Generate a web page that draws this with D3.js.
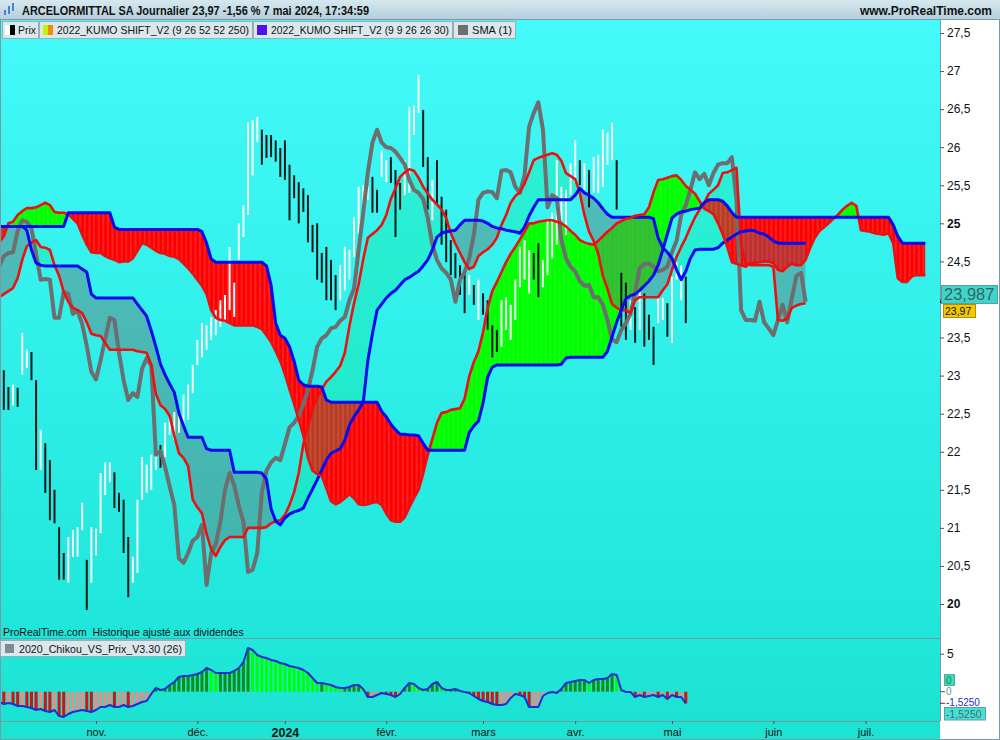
<!DOCTYPE html>
<html><head><meta charset="utf-8">
<script src="https://cdn.jsdelivr.net/npm/d3@7"></script>
<style>
body{margin:0;background:#fff;}
svg{display:block;font-family:"Liberation Sans",Arial,sans-serif;}
</style></head><body>
<svg id="c" width="1000" height="740"></svg>
<script>
// ---------------- DATA ----------------
const tickIdx = [22,44,63,85,106,126,147,169,189];
const tickLabels = ['nov.','déc.','2024','févr.','mars','avr.','mai','juin','juil.'];
// "24" is hidden behind the last-value box in the original, so it is not labelled
const yTicks = [20,20.5,21,21.5,22,22.5,23,23.5,24.5,25,25.5,26,26.5,27,27.5];
const lowTicks = [5];
// closes for bar index -26..150 (drawn as the SMA(1) line shifted +26)
const closes = [24.39,24.44,24.57,24.61,24.62,24.90,25.04,25.02,24.93,24.60,
24.26,24.27,24.26,23.76,23.76,24.10,24.07,23.81,23.85,23.68,
23.39,23.05,22.95,23.20,23.48,23.76,23.73,23.30,22.94,22.68,
22.77,22.72,23.09,23.23,23.13,21.96,22.01,21.80,21.54,21.30,
20.60,20.54,20.67,20.83,20.88,21.04,20.25,20.67,20.79,21.08,
21.50,21.72,21.56,21.29,21.08,20.42,20.45,20.67,21.47,21.75,
21.86,21.92,21.89,22.10,22.32,22.38,22.47,22.63,22.81,23.07,
23.38,23.49,23.53,23.62,23.64,23.72,23.77,23.99,24.14,24.65,
25.14,25.67,26.06,26.23,26.06,26.00,25.99,25.94,25.86,25.77,
25.57,25.44,25.40,25.32,25.07,24.72,24.52,24.41,24.35,24.26,
23.97,24.26,24.36,24.54,24.85,25.31,25.40,25.42,25.41,25.33,
25.69,25.70,25.67,25.48,25.40,25.63,26.27,26.45,26.59,26.23,
25.21,25.37,25.33,24.78,24.54,24.43,24.37,24.24,24.18,24.19,
24.03,24.03,23.93,23.73,23.47,23.44,23.60,23.69,23.81,24.10,
24.41,24.47,24.47,24.43,24.37,24.39,24.43,24.62,24.77,25.11,
25.24,25.44,25.67,25.58,25.65,25.50,25.66,25.77,25.79,25.79,
25.87,25.31,23.86,23.73,23.73,23.72,23.97,23.70,23.62,23.53,
23.73,23.93,23.70,24.01,24.31,24.35,23.97];
const highs = [23.86,23.47,23.07,22.85,22.88,22.84,23.56,23.34,23.31,22.94,
22.29,22.11,21.89,21.50,21.01,20.67,20.88,20.97,21.01,21.33,
20.58,21.01,20.99,21.72,21.86,21.86,21.73,21.46,21.37,20.88,
20.62,21.37,21.93,21.83,21.96,22.02,22.09,22.38,22.46,22.52,
22.57,22.75,22.88,23.14,23.47,23.69,23.66,23.77,23.86,23.99,
24.06,24.69,24.22,25.00,25.24,26.32,26.36,26.40,26.23,26.16,
26.16,26.09,25.99,26.09,25.77,25.63,25.54,25.46,25.37,24.98,
25.00,24.61,24.69,24.52,24.32,24.45,24.69,24.65,25.08,25.48,
25.50,25.48,25.61,25.44,25.96,25.83,25.87,25.70,25.53,25.83,
26.53,26.55,26.95,26.49,25.87,25.57,25.83,25.35,25.18,24.78,
24.61,24.45,24.35,24.32,24.19,24.26,24.08,23.99,23.66,23.60,
23.99,24.03,23.93,24.26,24.69,24.78,24.65,24.61,24.74,24.52,
25.04,25.14,25.83,25.48,25.44,25.79,26.09,25.83,25.79,25.70,
25.87,25.90,26.23,26.19,26.32,25.83,24.35,24.22,23.99,23.90,
24.12,24.08,23.80,23.64,24.03,24.02,23.95,24.30,24.49,24.45,
24.30];
const lows = [23.47,23.05,22.55,22.55,22.61,22.59,23.01,23.10,22.94,21.76,
21.76,21.46,21.10,21.06,20.32,20.32,20.28,20.62,20.62,20.97,
19.92,20.28,20.64,20.93,21.43,21.60,21.26,21.21,20.67,20.09,
20.28,20.41,21.37,21.46,21.50,21.76,21.79,21.93,22.22,22.15,
22.25,22.35,22.42,22.77,23.14,23.24,23.34,23.47,23.53,23.64,
23.70,23.86,23.77,24.52,24.82,25.11,25.63,26.07,25.77,25.86,
25.87,25.81,25.61,25.57,25.04,25.33,25.00,25.15,24.75,24.62,
24.26,24.22,23.99,23.99,23.86,23.99,24.12,24.26,24.56,24.87,
25.18,25.31,25.14,25.14,25.61,25.54,25.53,24.82,25.18,25.37,
25.40,26.16,26.45,25.74,25.18,25.04,25.24,24.72,24.49,24.32,
24.28,24.06,23.82,24.06,23.93,23.73,23.80,23.60,23.24,23.31,
23.38,23.60,23.47,23.73,24.16,24.26,24.08,24.26,24.03,24.16,
24.32,24.54,24.72,25.04,24.85,25.37,25.53,25.50,25.44,25.21,
25.40,25.40,25.48,25.77,25.83,25.18,23.64,23.47,23.60,23.43,
23.60,23.38,23.47,23.14,23.69,23.73,23.51,23.43,24.26,23.99,
23.69];
// Kumo 1 (9 26 52 52 250): span A (red) and span B (blue), index 0..202
const ssa1 = [24.72,24.75,24.83,25.00,25.02,25.11,25.16,25.20,25.20,25.21,
25.24,25.27,25.24,25.15,25.14,25.14,25.12,25.06,25.00,24.85,
24.72,24.62,24.61,24.61,24.57,24.54,24.52,24.49,24.50,24.50,
24.54,24.64,24.74,24.72,24.68,24.64,24.61,24.60,24.57,24.56,
24.53,24.47,24.41,24.34,24.26,24.18,24.07,23.86,23.76,23.73,
23.72,23.69,23.66,23.66,23.66,23.66,23.66,23.64,23.61,23.53,
23.44,23.32,23.19,23.02,22.82,22.63,22.42,22.21,21.92,21.75,
21.71,21.68,21.52,21.35,21.31,21.34,21.39,21.44,21.39,21.31,
21.30,21.31,21.33,21.34,21.30,21.19,21.10,21.08,21.08,21.14,
21.27,21.39,21.50,21.71,21.96,22.17,22.38,22.51,22.52,22.55,
22.56,22.57,22.70,22.99,23.18,23.32,23.57,23.89,24.11,24.23,
24.36,24.49,24.60,24.69,24.79,24.89,25.00,25.00,25.02,25.03,
25.04,25.04,25.02,25.00,24.96,24.90,24.85,24.78,24.75,24.73,
24.72,24.77,24.83,24.89,24.94,25.00,25.03,25.06,25.07,25.10,
25.11,25.12,25.21,25.41,25.57,25.58,25.60,25.62,25.63,25.57,
25.49,25.44,25.39,25.29,25.19,25.16,25.12,25.00,24.86,24.69,
24.49,24.47,24.45,24.43,24.48,24.48,24.49,24.50,24.50,24.48,
24.39,24.37,24.43,24.47,24.45,24.45,24.52,24.68,24.81,24.90,
24.95,25.00,25.06,25.11,25.18,25.23,25.27,25.23,24.91,24.90,
24.89,24.87,24.86,24.85,24.87,24.74,24.28,24.23,24.23,24.30,
24.32,24.32,24.32];
const ssb1 = [24.96,24.96,24.96,24.96,24.96,24.96,24.96,24.96,24.96,24.96,
24.96,24.96,24.96,24.96,24.96,24.96,25.14,25.14,25.14,25.14,
25.14,25.14,25.14,25.14,25.14,25.14,24.95,24.92,24.92,24.92,
24.92,24.92,24.92,24.92,24.92,24.92,24.92,24.92,24.92,24.92,
24.92,24.92,24.92,24.92,24.92,24.89,24.74,24.53,24.49,24.49,
24.49,24.49,24.49,24.49,24.49,24.49,24.49,24.49,24.49,24.44,
24.19,23.69,23.53,23.49,23.38,23.19,22.94,22.88,22.86,22.86,
22.86,22.85,22.68,22.65,22.65,22.65,22.65,22.65,22.65,22.65,
22.65,22.65,22.65,22.65,22.53,22.46,22.36,22.29,22.23,22.23,
22.22,22.22,22.21,22.11,22.02,22.02,22.02,22.02,22.02,22.02,
22.02,22.02,22.02,22.25,22.34,22.40,22.64,22.98,23.11,23.14,
23.14,23.14,23.14,23.14,23.14,23.14,23.14,23.14,23.14,23.14,
23.14,23.14,23.14,23.15,23.23,23.24,23.24,23.24,23.24,23.24,
23.24,23.24,23.24,23.32,23.51,23.70,23.86,24.01,24.05,24.07,
24.12,24.18,24.24,24.32,24.45,24.65,24.86,25.07,25.12,25.15,
25.16,25.18,25.19,25.20,25.27,25.31,25.31,25.31,25.29,25.23,
25.14,25.08,25.08,25.08,25.08,25.08,25.08,25.08,25.08,25.08,
25.08,25.08,25.08,25.08,25.08,25.08,25.08,25.08,25.08,25.08,
25.08,25.08,25.08,25.08,25.08,25.08,25.08,25.08,25.08,25.08,
25.08,25.08,25.08,25.08,25.08,24.98,24.83,24.74,24.74,24.74,
24.74,24.74,24.74];
// Kumo 2 (9 9 26 26 30): span A (red) and span B (blue), index 0..176
const ssa2 = [24.01,24.03,24.07,24.11,24.15,24.28,24.52,24.70,24.75,24.78,
24.69,24.68,24.65,24.45,24.31,24.10,23.97,23.89,23.86,23.82,
23.70,23.55,23.53,23.52,23.43,23.34,23.34,23.34,23.34,23.34,
23.34,23.32,23.31,23.30,23.14,22.76,22.61,22.56,22.47,22.21,
21.98,21.92,21.81,21.37,21.27,21.19,20.92,20.72,20.63,20.75,
20.84,20.88,20.88,20.88,20.88,21.00,21.00,21.00,21.00,21.01,
21.06,21.09,21.10,21.17,21.30,21.47,21.72,22.10,22.33,22.56,
22.71,22.82,22.92,22.98,23.05,23.13,23.30,23.65,23.95,24.20,
24.53,24.81,24.86,24.91,24.98,25.11,25.32,25.46,25.61,25.67,
25.71,25.69,25.60,25.48,25.39,25.31,25.25,25.18,25.07,24.87,
24.73,24.61,24.49,24.40,24.43,24.57,24.62,24.66,24.72,24.81,
24.98,25.11,25.27,25.36,25.41,25.52,25.67,25.83,25.86,25.88,
25.90,25.92,25.90,25.82,25.66,25.62,25.58,25.40,25.11,24.89,
24.77,24.60,24.31,24.14,23.94,23.89,23.86,23.86,23.82,23.99,
24.03,24.03,24.03,24.03,24.03,24.12,24.20,24.39,24.56,24.69,
24.81,24.95,25.08,25.18,25.27,25.39,25.44,25.50,25.66,25.67,
25.70,25.73,24.72,24.48,24.45,24.45,24.45,24.45,24.45,24.43,
23.73,23.72,23.75,23.89,23.92,23.94,23.95];
const ssb2 = [24.96,24.96,24.96,24.96,24.96,24.96,24.96,24.91,24.65,24.48,
24.45,24.44,24.44,24.44,24.44,24.44,24.44,24.44,24.44,24.40,
24.36,24.07,24.02,24.02,24.02,24.02,24.02,24.02,24.02,24.02,
24.02,23.94,23.86,23.78,23.59,23.38,23.15,23.01,22.89,22.78,
22.51,22.34,22.19,22.19,22.19,22.19,22.04,22.02,22.02,22.02,
22.02,22.02,21.73,21.73,21.73,21.73,21.73,21.73,21.72,21.64,
21.25,21.09,21.04,21.13,21.18,21.21,21.23,21.26,21.39,21.51,
21.63,21.76,21.89,21.98,22.01,22.04,22.15,22.35,22.46,22.55,
22.65,23.20,23.55,23.86,23.94,24.02,24.08,24.12,24.19,24.26,
24.29,24.33,24.37,24.44,24.52,24.65,24.82,24.87,24.89,24.90,
24.91,24.98,25.04,25.04,25.04,25.04,25.03,25.00,24.96,24.94,
24.93,24.91,24.90,24.89,24.87,24.95,25.10,25.21,25.31,25.31,
25.31,25.31,25.31,25.31,25.31,25.31,25.37,25.46,25.40,25.37,
25.33,25.27,25.19,25.12,25.08,25.08,25.08,25.08,25.08,25.08,
25.08,25.08,25.08,25.06,24.81,24.68,24.62,24.54,24.39,24.26,
24.37,24.54,24.65,24.66,24.66,24.66,24.66,24.68,24.74,24.78,
24.82,24.86,24.89,24.90,24.91,24.90,24.87,24.86,24.82,24.77,
24.74,24.74,24.74,24.74,24.74,24.74,24.74];
// 2020_Chikou_VS_Prix_V3.30 (26), index 0..150
const chikou = [-1.22,-1.36,-1.62,-1.49,-1.62,-1.88,-1.88,-2.01,-2.14,-2.41,
-2.28,-2.54,-2.67,-2.41,-3.20,-3.33,-2.93,-2.67,-2.54,-2.41,
-2.54,-2.67,-2.41,-2.01,-2.01,-1.75,-2.01,-2.01,-1.75,-2.01,
-1.88,-1.62,-1.36,-1.22,-0.30,0.49,0.22,0.36,0.88,1.28,
1.93,2.07,2.07,2.20,2.33,2.59,3.12,2.86,2.46,2.46,
2.46,2.46,2.72,3.12,3.91,5.75,5.49,4.83,4.57,4.43,
4.17,4.04,3.78,3.64,3.38,3.25,3.12,2.86,2.46,1.80,
1.14,1.14,1.01,0.88,0.62,0.49,0.49,0.62,0.88,0.88,
0.36,-0.70,-0.70,-0.43,-0.17,-0.30,-0.43,-0.70,-0.30,0.49,
1.14,1.01,0.49,0.22,0.36,1.01,1.28,0.49,0.22,0.22,
0.36,0.09,-0.04,-0.17,-0.57,-0.96,-1.22,-1.36,-1.62,-1.75,
-1.75,-1.62,-0.83,-0.30,-0.43,-0.70,-2.01,-2.01,-2.01,-0.57,
-0.17,-0.04,-0.17,0.36,1.14,1.28,1.41,1.54,1.54,1.14,
1.54,1.67,1.67,1.80,2.33,2.20,0.22,-0.04,-0.04,-0.70,
-0.43,-0.70,-0.57,-0.43,-0.70,-0.43,-0.96,-0.43,-0.70,-0.70,
-1.525];
const SHIFT = 26;

// ---------------- LAYOUT ----------------
const W = 1000, H = 740;
const PR = 940, PT = 20, PB = 638, LT = 639, LB = 721;
const svg = d3.select('#c');
const defs = svg.append('defs');
const x = d3.scaleLinear().domain([0, 150]).range([-5.4, 685.8]);
const STEP = x(1) - x(0);
const y = d3.scaleLinear().domain([20, 27.5]).range([604, 33]);
const yl = d3.scaleLinear().domain([0, 5]).range([691.7, 653.7]);
const fmt = v => String(v).replace('.', ',');
const FONT = '"Liberation Sans",Arial,sans-serif';

function grad(id, stops) {
  const g = defs.append('linearGradient').attr('id', id).attr('x1', 0).attr('y1', 0).attr('x2', 0).attr('y2', 1);
  stops.forEach(s => g.append('stop').attr('offset', s[0]).attr('stop-color', s[1]));
}
grad('bgMain', [['0%', '#44fafa'], ['100%', '#1fe6da']]);
grad('bgHead', [['0%', '#d6e8ef'], ['100%', '#b3cedb']]);
grad('bgLow', [['0%', '#20e8da'], ['100%', '#1ce2d2']]);

// patterns for kumo 1
const pr = defs.append('pattern').attr('id', 'redH').attr('patternUnits', 'userSpaceOnUse')
  .attr('width', STEP).attr('height', 10).attr('x', x(0));
pr.append('rect').attr('width', STEP).attr('height', 10).attr('fill', '#ff0000');
pr.append('rect').attr('x', STEP * 0.5).attr('width', 0.8).attr('height', 10).attr('fill', 'rgba(255,255,255,0.28)');
const pg = defs.append('pattern').attr('id', 'grnH').attr('patternUnits', 'userSpaceOnUse')
  .attr('width', STEP).attr('height', 10).attr('x', x(0));
pg.append('rect').attr('width', STEP).attr('height', 10).attr('fill', '#00ff00');
pg.append('rect').attr('x', STEP * 0.5).attr('width', 0.8).attr('height', 10).attr('fill', 'rgba(255,255,255,0.15)');

defs.append('clipPath').attr('id', 'plotClip').append('rect').attr('x', 1).attr('y', PT).attr('width', PR - 1).attr('height', PB - PT);
defs.append('clipPath').attr('id', 'lowClip').append('rect').attr('x', 1).attr('y', LT).attr('width', PR - 1).attr('height', LB - LT);

// backgrounds
svg.append('rect').attr('x', 0).attr('y', 0).attr('width', W).attr('height', H).attr('fill', '#ffffff');
svg.append('rect').attr('x', 0).attr('y', PT).attr('width', PR).attr('height', PB - PT).attr('fill', 'url(#bgMain)');
svg.append('rect').attr('x', 0).attr('y', LT).attr('width', PR).attr('height', LB - LT).attr('fill', 'url(#bgLow)');
svg.append('rect').attr('x', 0).attr('y', LB).attr('width', PR).attr('height', H - LB).attr('fill', '#1de3d3');

// ---------------- MAIN PLOT ----------------
const gMain = svg.append('g').attr('clip-path', 'url(#plotClip)');

function cloud(a, b, id, upFill, dnFill) {
  const idx = d3.range(a.length);
  const areaAB = d3.area().x(i => x(i)).y0(i => y(a[i])).y1(i => y(b[i]));
  defs.append('clipPath').attr('id', id + 'up').append('path')
    .attr('d', d3.area().x(i => x(i)).y0(0).y1(i => y(b[i]))(idx));
  defs.append('clipPath').attr('id', id + 'dn').append('path')
    .attr('d', d3.area().x(i => x(i)).y0(H).y1(i => y(b[i]))(idx));
  gMain.append('path').attr('d', areaAB(idx)).attr('fill', upFill).attr('clip-path', `url(#${id}up)`);
  gMain.append('path').attr('d', areaAB(idx)).attr('fill', dnFill).attr('clip-path', `url(#${id}dn)`);
}
cloud(ssa1, ssb1, 'k1', 'url(#grnH)', 'url(#redH)');
cloud(ssa2, ssb2, 'k2', 'rgba(0,225,130,0.26)', 'rgba(110,110,110,0.42)');

// price bars
const bars = d3.range(highs.length);
gMain.append('g').selectAll('line').data(bars).join('line')
  .attr('x1', k => x(k)).attr('x2', k => x(k))
  .attr('y1', k => y(highs[k])).attr('y2', k => y(lows[k]))
  .attr('stroke', k => closes[k + SHIFT] >= closes[k + SHIFT - 1] ? '#f2fafa' : '#0c1a1a')
  .attr('stroke-width', 2);

// SMA(1) shifted line (gray)
const lineOf = arr => d3.line().x((d, i) => x(i)).y(d => y(d))(arr);
gMain.append('path').attr('d', lineOf(closes)).attr('fill', 'none')
  .attr('stroke', '#6e6e6e').attr('stroke-width', 4).attr('stroke-linejoin', 'round');

// kumo lines
[[ssa2, '#ee1010', 2.6], [ssb2, '#0a0aee', 3], [ssa1, '#ee1010', 2.6], [ssb1, '#0a0aee', 3]].forEach(([arr, c, w]) => {
  gMain.append('path').attr('d', lineOf(arr)).attr('fill', 'none')
    .attr('stroke', c).attr('stroke-width', w).attr('stroke-linejoin', 'round');
});

// ---------------- LOWER PANEL ----------------
const gLow = svg.append('g').attr('clip-path', 'url(#lowClip)');
gLow.append('g').selectAll('rect').data(chikou).join('rect')
  .attr('x', (d, k) => x(k) - 1.5).attr('width', 3)
  .attr('y', d => Math.min(yl(0), yl(d))).attr('height', d => Math.abs(yl(d) - yl(0)))
  .attr('fill', (d, k) => {
    const up = k === 0 ? true : d >= chikou[k - 1];
    if (d >= 0) return up ? '#0f8f12' : '#00ff00';
    return up ? '#f08a84' : '#d81010';
  });
gLow.append('path').attr('d', d3.line().x((d, i) => x(i)).y(d => yl(d))(chikou))
  .attr('fill', 'none').attr('stroke', '#1c2ed0').attr('stroke-width', 2).attr('stroke-linejoin', 'round');

// ---------------- FRAMES ----------------
svg.append('line').attr('x1', 0).attr('x2', PR).attr('y1', PB + 0.5).attr('y2', PB + 0.5).attr('stroke', '#6f9aa0');
svg.append('line').attr('x1', 0).attr('x2', PR).attr('y1', LB + 0.5).attr('y2', LB + 0.5).attr('stroke', '#7a98a0');
svg.append('line').attr('x1', PR + 0.5).attr('x2', PR + 0.5).attr('y1', PT).attr('y2', LB).attr('stroke', '#7a98a0');
svg.append('rect').attr('x', 0.5).attr('y', 0.5).attr('width', W - 1).attr('height', H - 1).attr('fill', 'none').attr('stroke', '#7a98a8');

// ---------------- AXES ----------------
const ax = svg.append('g').attr('transform', `translate(${PR},0)`)
  .call(d3.axisRight(y).tickValues(yTicks).tickSize(4).tickPadding(3).tickFormat(fmt));
ax.select('.domain').remove();
ax.selectAll('line').attr('stroke', '#555');
ax.selectAll('text').attr('font-size', 12).attr('fill', '#111').attr('font-family', FONT)
  .attr('font-weight', d => d % 5 === 0 ? 'bold' : 'normal');

const axl = svg.append('g').attr('transform', `translate(${PR},0)`)
  .call(d3.axisRight(yl).tickValues(lowTicks).tickSize(4).tickPadding(3).tickFormat(fmt));
axl.select('.domain').remove();
axl.selectAll('line').attr('stroke', '#555');
axl.selectAll('text').attr('font-size', 12).attr('fill', '#111').attr('font-family', FONT);

const axb = svg.append('g').attr('transform', `translate(0,${LB})`)
  .call(d3.axisBottom(x).tickValues(tickIdx).tickSize(3).tickPadding(4).tickFormat((d, i) => tickLabels[i]));
axb.select('.domain').remove();
axb.selectAll('line').attr('stroke', '#555');
axb.selectAll('text').attr('fill', '#111').attr('font-family', FONT)
  .attr('font-size', (d, i) => tickLabels[i] === '2024' ? 12.5 : 11)
  .attr('font-weight', (d, i) => tickLabels[i] === '2024' ? 'bold' : 'normal');

// last value markers (main)
svg.append('line').attr('x1', PR).attr('x2', PR + 6).attr('y1', y(24)).attr('y2', y(24)).attr('stroke', '#555');
svg.append('line').attr('x1', PR).attr('x2', PR + 6).attr('y1', y(23.97)).attr('y2', y(23.97)).attr('stroke', '#000').attr('stroke-width', 2);
svg.append('rect').attr('x', 941.5).attr('y', 285.5).attr('width', 56).attr('height', 18).attr('fill', '#3ad6cc').attr('stroke', '#5f9c9a');
svg.append('text').attr('x', 944).attr('y', 300).attr('font-size', 16.5).attr('fill', '#3e6262').text('23,987');
svg.append('rect').attr('x', 943.5).attr('y', 304.5).attr('width', 32).attr('height', 13).attr('fill', '#f2c800').attr('stroke', '#b88a00');
svg.append('text').attr('x', 945).attr('y', 315).attr('font-size', 10.5).attr('fill', '#111').text('23,97');

// last value markers (lower)
svg.append('line').attr('x1', PR).attr('x2', PR + 5).attr('y1', yl(0)).attr('y2', yl(0)).attr('stroke', '#555');
svg.append('line').attr('x1', PR).attr('x2', PR + 5).attr('y1', yl(-1.525)).attr('y2', yl(-1.525)).attr('stroke', '#a01010');
svg.append('rect').attr('x', 944.5).attr('y', 674.5).attr('width', 10).attr('height', 11).attr('fill', '#32e0b6').attr('stroke', '#6aa0a0');
svg.append('text').attr('x', 946).attr('y', 684).attr('font-size', 10).attr('fill', '#1d8a52').text('0');
svg.append('text').attr('x', 946).attr('y', 695).attr('font-size', 10).attr('fill', '#7a8a8a').text('0');
svg.append('text').attr('x', 946).attr('y', 706).attr('font-size', 10).attr('fill', '#2030d0').text('-1,5250');
svg.append('rect').attr('x', 944.5).attr('y', 707.5).attr('width', 41).attr('height', 12.5).attr('fill', '#42e2da').attr('stroke', '#6a9a9a');
svg.append('text').attr('x', 946).attr('y', 718).attr('font-size', 10.5).attr('fill', '#4d6a6a').text('-1,5250');

// ---------------- HEADER & LEGENDS ----------------
svg.append('rect').attr('x', 0).attr('y', 0).attr('width', W).attr('height', PT).attr('fill', 'url(#bgHead)');
svg.append('line').attr('x1', 0).attr('x2', W).attr('y1', PT - 0.5).attr('y2', PT - 0.5).attr('stroke', '#7c9aa8');
const icon = svg.append('g').attr('fill', '#4d7fd6');
[[4, 10, 5], [8, 6, 8], [12, 3, 8]].forEach(([xx, yy, hh]) => {
  icon.append('rect').attr('x', xx).attr('y', yy).attr('width', 2).attr('height', hh);
});
svg.append('text').attr('x', 22).attr('y', 15).attr('font-size', 12).attr('font-weight', 'bold').attr('fill', '#111')
  .attr('textLength', 347).attr('lengthAdjust', 'spacingAndGlyphs')
  .text('ARCELORMITTAL SA Journalier 23,97 -1,56 % 7 mai 2024, 17:34:59');
svg.append('text').attr('x', 992).attr('y', 15).attr('text-anchor', 'end').attr('font-size', 12).attr('font-weight', 'bold').attr('fill', '#111')
  .text('www.ProRealTime.com');

const legends = [
  {x0: 2, x1: 38, label: 'Prix', ix: 18, w: 18},
  {x0: 39, x1: 252, label: '2022_KUMO SHIFT_V2 (9 26 52 52 250)', ix: 57, w: 192},
  {x0: 253, x1: 452, label: '2022_KUMO SHIFT_V2 (9 9 26 26 30)', ix: 271, w: 178},
  {x0: 453, x1: 515, label: 'SMA (1)', ix: 472, w: 40}
];
legends.forEach(l => {
  svg.append('rect').attr('x', l.x0 + 0.5).attr('y', 21.5).attr('width', l.x1 - l.x0).attr('height', 17)
    .attr('fill', '#dce7ec').attr('stroke', '#95aeb8');
});
legends.forEach(l => {
  svg.append('text').attr('x', l.ix).attr('y', 34).attr('font-size', 11.5).attr('fill', '#111')
    .attr('textLength', l.w).attr('lengthAdjust', 'spacingAndGlyphs').text(l.label);
});
svg.append('rect').attr('x', 5).attr('y', 25).attr('width', 5).attr('height', 10).attr('fill', '#fff');
svg.append('rect').attr('x', 10).attr('y', 25).attr('width', 5).attr('height', 10).attr('fill', '#000');
svg.append('rect').attr('x', 43).attr('y', 25).attr('width', 5).attr('height', 10).attr('fill', '#c8f000');
svg.append('rect').attr('x', 48).attr('y', 25).attr('width', 5).attr('height', 10).attr('fill', '#f08c00');
svg.append('rect').attr('x', 257).attr('y', 25).attr('width', 10).attr('height', 10).attr('fill', '#4d10ee');
svg.append('rect').attr('x', 458).attr('y', 25).attr('width', 10).attr('height', 10).attr('fill', '#6e6e6e');

svg.append('text').attr('x', 3).attr('y', 636).attr('font-size', 10.5).attr('fill', '#111')
  .style('white-space', 'pre').text('ProRealTime.com  Historique ajusté aux dividendes');
svg.append('rect').attr('x', 0.5).attr('y', 640.5).attr('width', 185).attr('height', 16).attr('fill', '#dce7ec').attr('stroke', '#95aeb8');
svg.append('rect').attr('x', 5).attr('y', 644).attr('width', 9).attr('height', 9).attr('fill', '#7a8c94');
svg.append('text').attr('x', 19).attr('y', 653).attr('font-size', 11.5).attr('fill', '#111')
  .attr('textLength', 163).attr('lengthAdjust', 'spacingAndGlyphs').text('2020_Chikou_VS_Prix_V3.30 (26)');
</script>
</body></html>
